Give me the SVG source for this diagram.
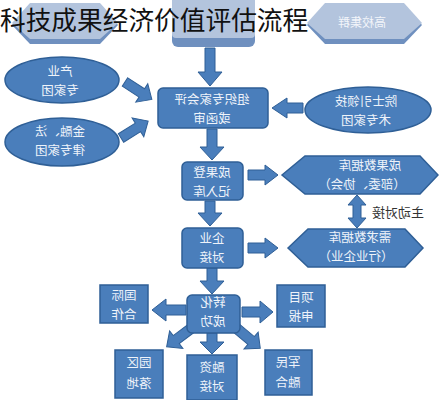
<svg xmlns="http://www.w3.org/2000/svg" width="439" height="400" viewBox="0 0 439 400">
<style>
.box{fill:#4a7ebb;stroke:#2f5f96;stroke-width:1.5}
.fade{fill:#b3c4dd}
.fadeb{fill:#6f90bf}
.arr{fill:#4a7ebb;stroke:#2f5f96;stroke-width:1}
.t{font-family:"Noto Sans CJK SC","Noto Sans",sans-serif;font-size:12.5px;fill:#eef3fa;text-anchor:middle}
.lbl{font-family:"Noto Sans CJK SC","Noto Sans",sans-serif;font-size:13px;fill:#333;text-anchor:middle}
.title{font-family:"Noto Sans CJK SC","Noto Sans",sans-serif;font-size:25.7px;fill:#111}
</style>
<rect width="439" height="400" fill="#ffffff"/>
<g id="top-left">
<polygon class="fadeb" points="12,25 30,5 100,5 118,25 100,44 30,44"/>
<polygon class="fade" points="12,23 30,3 100,3 118,23 100,39 30,39"/>
</g>
<g id="top-center">
<rect class="fadeb" x="172" y="-6" width="83" height="53" rx="6"/>
<rect class="fade" x="172" y="-6" width="83" height="44" rx="4"/>
</g>
<g id="top-right">
<polygon class="fadeb" points="307,25 325,5 404,5 422,25 404,44 325,44"/>
<polygon class="fade" points="307,23 325,3 404,3 422,23 404,39 325,39"/>
<text class="t" transform="scale(-1,1)" x="-362" y="27" style="font-size:12px;fill:#f2f5fa">高校集群</text>
</g>
<text class="title" x="0" y="30">科技成果经济价值评估流程</text>
<g id="connectors">
<polygon class="arr" points="205,48 215,48 215,72 222,72 210,86 198,72 205,72"/>
<polygon class="arr" points="207,129 217,129 217,147 224,147 212,160 200,147 207,147"/>
<polygon class="arr" transform="translate(125,82) rotate(33)" points="0,-5 20,-5 20,-11 32,0 20,11 20,5 0,5"/>
<polygon class="arr" transform="translate(121,138) rotate(-32)" points="0,-5 20,-5 20,-11 32,0 20,11 20,5 0,5"/>
<polygon class="arr" points="303,103 287,103 287,98 272,108 287,118 287,113 303,113"/>
<polygon class="arr" points="248,170 265,170 265,165 278,175 265,185 265,180 248,180"/>
<polygon class="arr" points="357,195 366,205 361,205 361,218 366,218 357,228 348,218 353,218 353,205 348,205"/>
<polygon class="arr" points="205,201 215,201 215,213 222,213 210,226 198,213 205,213"/>
<polygon class="arr" points="248,243 265,243 265,238 278,248 265,258 265,253 248,253"/>
<polygon class="arr" points="207,268 217,268 217,281 224,281 212,294 200,281 207,281"/>
<polygon class="arr" points="186,305 166,305 166,299 152,310 166,321 166,315 186,315"/>
<polygon class="arr" points="242,307 260,307 260,301 273,312 260,323 260,317 242,317"/>
<polygon class="arr" points="207,333 217,333 217,342 224,342 212,354 200,342 207,342"/>
<polygon class="arr" transform="translate(193,327) rotate(143)" points="0,-5 21,-5 21,-11 33,0 21,11 21,5 0,5"/>
<polygon class="arr" transform="translate(235,327) rotate(40)" points="0,-5 21,-5 21,-11 33,0 21,11 21,5 0,5"/>
<text class="lbl" transform="scale(-1,1)" x="-398" y="217">主动对接</text>
</g>
<g id="review">
<rect class="box" x="158" y="88" width="110" height="40" rx="5"/>
<text class="t" transform="scale(-1,1)" x="-212" y="104">组织专家会评</text>
<text class="t" transform="scale(-1,1)" x="-212" y="123">或函审</text>
</g>
<g id="industry-experts">
<ellipse class="box" cx="62" cy="80" rx="57" ry="23"/>
<text class="t" transform="scale(-1,1)" x="-60" y="76">产业</text>
<text class="t" transform="scale(-1,1)" x="-60" y="95">专家团</text>
</g>
<g id="finance-experts">
<ellipse class="box" cx="62" cy="142" rx="57" ry="24"/>
<text class="t" transform="scale(-1,1)" x="-60" y="136">金融、法</text>
<text class="t" transform="scale(-1,1)" x="-60" y="155">律专家团</text>
</g>
<g id="academician-experts">
<ellipse class="box" cx="368" cy="110" rx="63" ry="23"/>
<text class="t" transform="scale(-1,1)" x="-366" y="106">院士引领技</text>
<text class="t" transform="scale(-1,1)" x="-366" y="125">术专家团</text>
</g>
<g id="register">
<rect class="box" x="182" y="162" width="61" height="38" rx="5"/>
<text class="t" transform="scale(-1,1)" x="-212" y="177">成果登</text>
<text class="t" transform="scale(-1,1)" x="-212" y="196">记入库</text>
</g>
<g id="result-db">
<polygon class="box" points="282,175 305,156 420,156 438,175 420,194 305,194"/>
<text class="t" transform="scale(-1,1)" x="-370" y="170">成果数据库</text>
<text class="t" transform="scale(-1,1)" x="-362" y="189">（部委、协会）</text>
</g>
<g id="enterprise">
<rect class="box" x="182" y="228" width="61" height="40" rx="5"/>
<text class="t" transform="scale(-1,1)" x="-212" y="243">企业</text>
<text class="t" transform="scale(-1,1)" x="-212" y="262">对接</text>
</g>
<g id="demand-db">
<polygon class="box" points="288,248 308,229 405,229 423,248 405,267 308,267"/>
<text class="t" transform="scale(-1,1)" x="-360" y="242">需求数据库</text>
<text class="t" transform="scale(-1,1)" x="-356" y="261">（行业企业）</text>
</g>
<g id="transform-success">
<rect class="box" x="187" y="295" width="53" height="38" rx="5"/>
<text class="t" transform="scale(-1,1)" x="-213" y="307">转化</text>
<text class="t" transform="scale(-1,1)" x="-213" y="326">成功</text>
</g>
<g id="international">
<rect class="box" x="100" y="285" width="48" height="38"/>
<text class="t" transform="scale(-1,1)" x="-124" y="300">国际</text>
<text class="t" transform="scale(-1,1)" x="-124" y="319">合作</text>
</g>
<g id="project">
<rect class="box" x="277" y="285" width="48" height="42"/>
<text class="t" transform="scale(-1,1)" x="-301" y="302">项目</text>
<text class="t" transform="scale(-1,1)" x="-301" y="321">申报</text>
</g>
<g id="park">
<rect class="box" x="115" y="350" width="48" height="48"/>
<text class="t" transform="scale(-1,1)" x="-139" y="367">园区</text>
<text class="t" transform="scale(-1,1)" x="-139" y="388">落地</text>
</g>
<g id="financing">
<rect class="box" x="187" y="355" width="50" height="45"/>
<text class="t" transform="scale(-1,1)" x="-212" y="372">融资</text>
<text class="t" transform="scale(-1,1)" x="-212" y="391">对接</text>
</g>
<g id="military-civil">
<rect class="box" x="265" y="350" width="47" height="45"/>
<text class="t" transform="scale(-1,1)" x="-288" y="367">军民</text>
<text class="t" transform="scale(-1,1)" x="-288" y="387">融合</text>
</g>
</svg>
